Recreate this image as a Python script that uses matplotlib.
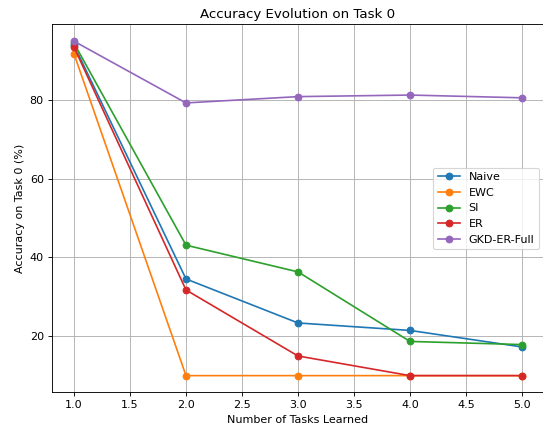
import matplotlib
matplotlib.use('Agg')
from matplotlib import pyplot as plt

tasks = [1, 2, 3, 4, 5]
naive = [94.0, 34.5, 23.3, 21.4, 17.2]
ewc = [91.8, 9.9, 9.9, 9.9, 9.9]
si = [94.5, 43.1, 36.3, 18.6, 17.8]
er = [93.5, 31.7, 14.9, 9.9, 9.9]
gkd = [95.0, 79.3, 80.9, 81.3, 80.6]

# reference looks like a downscaled render, so use a lower dpi
fig = plt.figure(figsize=(543 / 80, 426 / 80), dpi=80)
plt.plot(tasks, naive, marker='o', label='Naive')
plt.plot(tasks, ewc, marker='o', label='EWC')
plt.plot(tasks, si, marker='o', label='SI')
plt.plot(tasks, er, marker='o', label='ER')
plt.plot(tasks, gkd, marker='o', label='GKD-ER-Full')

plt.title("Accuracy Evolution on Task 0")
plt.xlabel("Number of Tasks Learned")
plt.ylabel("Accuracy on Task 0 (%)")
plt.legend(loc='center right')
plt.grid(True)
# the reference figure is cropped a little on the right
plt.subplots_adjust(left=0.095, right=1.0026, top=0.9425, bottom=0.079)
plt.savefig('out.png')
